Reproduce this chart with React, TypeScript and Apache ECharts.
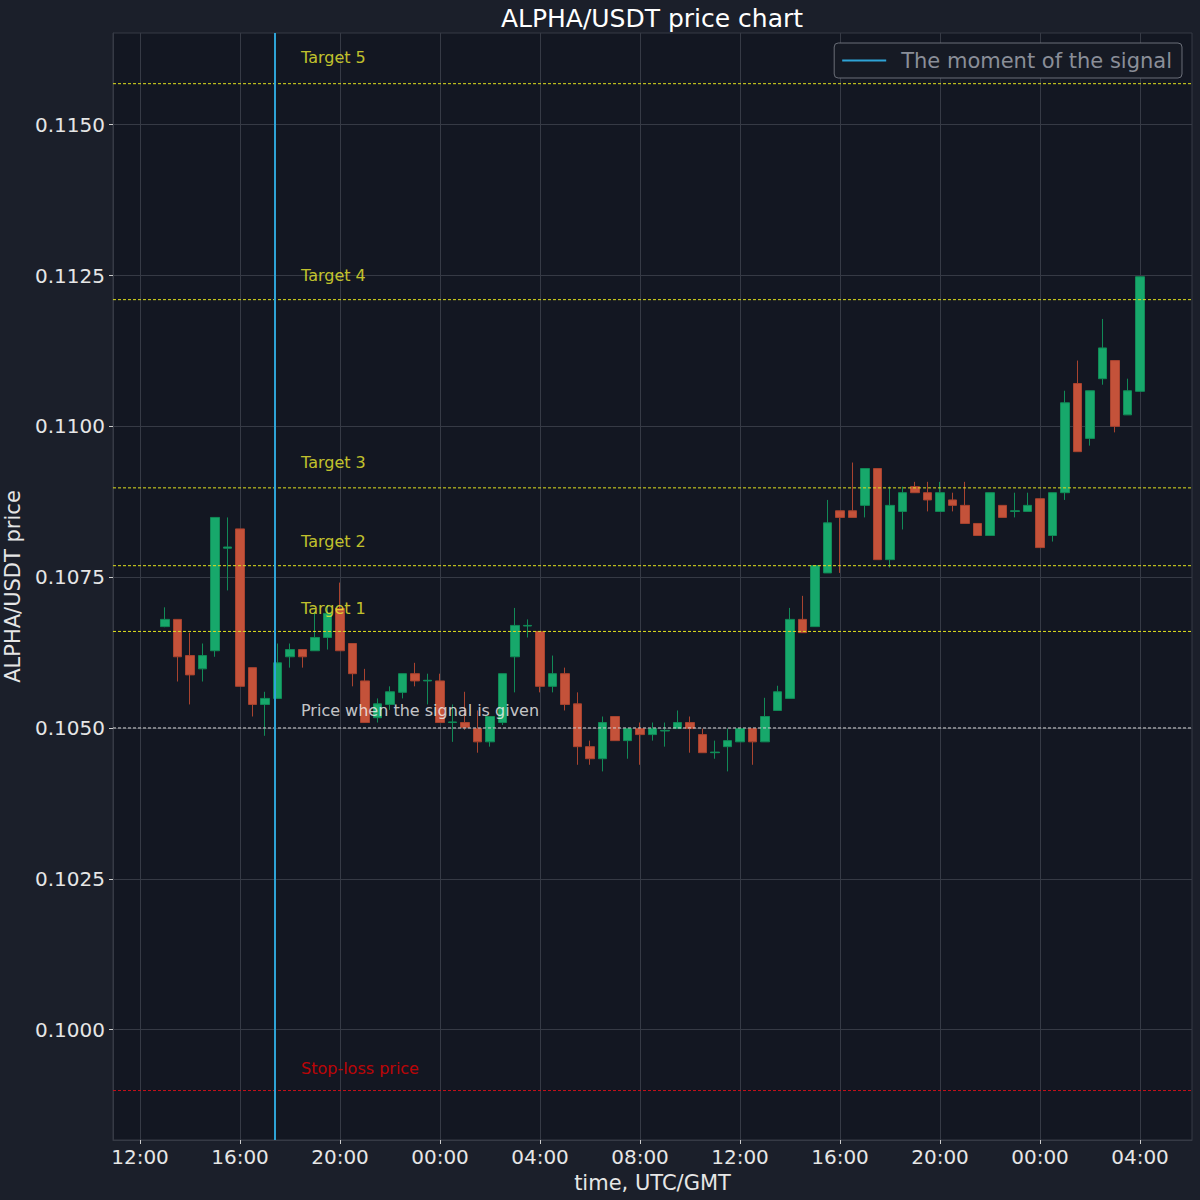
import React, { useEffect, useRef } from "react";
import * as echarts from "echarts";

const TITLE = "ALPHA/USDT price chart";
const LEGEND_NAME = "The moment of the signal";

// time in hours from 00:00 of the first day
const FIRST_CANDLE_HOUR = 13;
const CANDLE_STEP_HOURS = 0.5;
const SIGNAL_HOUR = 17.4;
const X_MIN = 10.92;
const X_MAX = 54.08;
const Y_MIN = 0.09817;
const Y_MAX = 0.11652;

const xTickHours = [12, 16, 20, 24, 28, 32, 36, 40, 44, 48, 52];
const yTicks = [0.1, 0.1025, 0.105, 0.1075, 0.11, 0.1125, 0.115];

const opens = [
  0.10668, 0.1068, 0.1062, 0.10598, 0.10628, 0.10798, 0.1083, 0.106, 0.10539, 0.10549,
  0.10618, 0.1063, 0.10628, 0.1065, 0.10698, 0.1064, 0.10578, 0.10517, 0.10539, 0.10559,
  0.1059, 0.10578, 0.10578, 0.10509, 0.10509, 0.10499, 0.10477, 0.10509, 0.10618, 0.10669,
  0.1066, 0.10569, 0.1059, 0.1054, 0.10469, 0.10449, 0.10519, 0.10479, 0.10499, 0.10489,
  0.10495, 0.10499, 0.10509, 0.10489, 0.10459, 0.10469, 0.10477, 0.10499, 0.10477, 0.10529,
  0.10549, 0.1068, 0.10668, 0.10757, 0.1086, 0.1086, 0.10869, 0.1093, 0.10779, 0.10859,
  0.109, 0.1089, 0.10859, 0.10878, 0.10869, 0.10839, 0.10819, 0.10869, 0.10859, 0.10859,
  0.1088, 0.10819, 0.1089, 0.11071, 0.1098, 0.11079, 0.11109, 0.11019, 0.11058,
];
const closes = [
  0.1068, 0.10618, 0.10588, 0.1062, 0.10849, 0.108, 0.10569, 0.10539, 0.10549, 0.10608,
  0.1063, 0.10618, 0.1065, 0.1069, 0.10628, 0.1059, 0.10509, 0.1054, 0.1056, 0.1059,
  0.10578, 0.10579, 0.10509, 0.1051, 0.10501, 0.10477, 0.10519, 0.1059, 0.1067, 0.1067,
  0.10569, 0.1059, 0.10539, 0.10469, 0.10449, 0.10509, 0.10479, 0.10499, 0.10489, 0.10499,
  0.10496, 0.10509, 0.10499, 0.10459, 0.1046, 0.10479, 0.10499, 0.10477, 0.10519, 0.1056,
  0.1068, 0.10658, 0.10769, 0.1084, 0.10849, 0.10849, 0.1093, 0.10779, 0.10869, 0.1089,
  0.1089, 0.10878, 0.1089, 0.10869, 0.10839, 0.10819, 0.1089, 0.10849, 0.1086, 0.10869,
  0.10799, 0.1089, 0.11039, 0.10958, 0.11059, 0.1113, 0.11, 0.11059, 0.11248,
];
const lows = [
  0.10667, 0.10577, 0.10539, 0.10577, 0.10618, 0.10728, 0.10569, 0.10519, 0.10487, 0.10549,
  0.106, 0.106, 0.10628, 0.1063, 0.10628, 0.10569, 0.10509, 0.10509, 0.1053, 0.10549,
  0.10569, 0.10539, 0.10509, 0.10477, 0.10497, 0.10459, 0.10469, 0.10505, 0.10559, 0.1065,
  0.10559, 0.10559, 0.10529, 0.10439, 0.10439, 0.10428, 0.10479, 0.10449, 0.10439, 0.10479,
  0.10469, 0.10499, 0.10459, 0.10459, 0.10449, 0.10428, 0.10477, 0.10439, 0.10477, 0.10529,
  0.10549, 0.10658, 0.10668, 0.10757, 0.10757, 0.10849, 0.10849, 0.10779, 0.10766, 0.10829,
  0.1089, 0.10859, 0.10859, 0.10859, 0.10839, 0.10819, 0.10819, 0.10849, 0.10849, 0.10859,
  0.10799, 0.10809, 0.10878, 0.10958, 0.10968, 0.11069, 0.1099, 0.11019, 0.11058,
];
const highs = [
  0.107, 0.1068, 0.10658, 0.1064, 0.10849, 0.10849, 0.1083, 0.106, 0.1056, 0.1064,
  0.1064, 0.1063, 0.10691, 0.10704, 0.10741, 0.1064, 0.10598, 0.10549, 0.10569, 0.1059,
  0.10608, 0.1059, 0.1059, 0.10539, 0.1056, 0.10529, 0.10519, 0.1059, 0.10699, 0.1068,
  0.1066, 0.1062, 0.106, 0.10559, 0.10479, 0.10519, 0.10519, 0.105, 0.10509, 0.10509,
  0.10509, 0.10529, 0.10519, 0.10499, 0.10479, 0.10499, 0.10499, 0.10499, 0.1055, 0.1057,
  0.10699, 0.10719, 0.10769, 0.10878, 0.1086, 0.1094, 0.1093, 0.1093, 0.109, 0.109,
  0.10908, 0.10908, 0.10908, 0.1089, 0.10908, 0.10839, 0.1089, 0.10869, 0.1089, 0.1089,
  0.1088, 0.1089, 0.11059, 0.11109, 0.11059, 0.11178, 0.11109, 0.11079, 0.11248,
];

const levelNames = [
  "Target 5",
  "Target 4",
  "Target 3",
  "Target 2",
  "Target 1",
  "Price when the signal is given",
  "Stop-loss price",
];
const levelPrices = [0.11568, 0.1121, 0.10898, 0.10769, 0.1066, 0.105, 0.09899];
const LABEL_HOUR = 18.44;

const TARGET_LINE = "#e0e01e";
const TARGET_TEXT = "#f0f030";
const PRICE_LINE = "#d4d4d4";
const PRICE_TEXT = "#f4f4f4";
const STOP_LINE = "#c8101a";
const STOP_TEXT = "#e80000";
const levelLineColors = [TARGET_LINE, TARGET_LINE, TARGET_LINE, TARGET_LINE, TARGET_LINE, PRICE_LINE, STOP_LINE];
const levelTextColors = [TARGET_TEXT, TARGET_TEXT, TARGET_TEXT, TARGET_TEXT, TARGET_TEXT, PRICE_TEXT, STOP_TEXT];
const levelLabelLift = [26, 24, 25, 24, 23, 17, 22];

const FONT = "DejaVu Sans";
const GRID_COLOR = "#363a45";
const TEXT_COLOR = "#e6e6e6";
const SIGNAL_COLOR = "#2ea3d6";

function hourLabel(v: number) {
  const h = ((Math.round(v) % 24) + 24) % 24;
  return (h < 10 ? "0" : "") + h + ":00";
}

export default function App() {
  const ref = useRef<HTMLDivElement>(null);
  useEffect(() => {
    if (!ref.current) return;
    const chart = echarts.init(ref.current, undefined, { renderer: "svg" });
    const candleData = opens.map((o, i) => [
      FIRST_CANDLE_HOUR + i * CANDLE_STEP_HOURS,
      o,
      closes[i],
      lows[i],
      highs[i],
    ]);
    const labelData = levelNames.map((n, i) => ({
      name: n,
      value: [LABEL_HOUR, levelPrices[i]],
      label: { color: levelTextColors[i], offset: [0, -levelLabelLift[i]] },
    }));
    const levelSeries = levelPrices.map((p, i) => ({
      type: "line",
      name: "level-" + i,
      data: [
        [X_MIN, p],
        [X_MAX, p],
      ],
      symbol: "none",
      silent: true,
      lineStyle: { color: levelLineColors[i], type: [3, 2], width: 1 },
      z: 4,
    }));
    chart.setOption({
      animation: false,
      backgroundColor: "#1b1f2a",
      textStyle: { fontFamily: FONT },
      title: {
        text: TITLE,
        left: 652,
        textAlign: "center",
        top: 6,
        padding: 0,
        textStyle: { color: "#ffffff", fontSize: 25, fontWeight: "normal", fontFamily: FONT },
      },
      legend: {
        data: [LEGEND_NAME],
        right: 18,
        top: 43,
        orient: "vertical",
        backgroundColor: "#161a24",
        borderColor: "#6a6e78",
        borderWidth: 1,
        borderRadius: 4,
        padding: [7, 10, 7, 8],
        icon: "rect",
        itemWidth: 44,
        itemHeight: 2,
        textStyle: { color: "#8a8e98", fontSize: 21, fontFamily: FONT, padding: [0, 0, 0, 10] },
        selectedMode: false,
      },
      grid: {
        left: 113,
        right: 8,
        top: 33,
        bottom: 60,
        show: true,
        backgroundColor: "#131722",
        borderColor: GRID_COLOR,
        borderWidth: 1,
        containLabel: false,
        outerBoundsMode: "none",
      },
      xAxis: {
        type: "value",
        min: X_MIN,
        max: X_MAX,
        name: "time, UTC/GMT",
        nameLocation: "middle",
        nameGap: 32,
        nameTextStyle: { color: TEXT_COLOR, fontSize: 21, fontFamily: FONT },
        axisLine: { show: true, lineStyle: { color: GRID_COLOR } },
        axisTick: { show: true, customValues: xTickHours, length: 4, lineStyle: { color: "#cccccc" } },
        axisLabel: {
          customValues: xTickHours,
          formatter: (v: number) => hourLabel(v),
          color: TEXT_COLOR,
          fontSize: 20,
          margin: 7,
          fontFamily: FONT,
        },
        splitLine: { show: true, lineStyle: { color: GRID_COLOR, width: 1 } },
      },
      yAxis: {
        type: "value",
        min: Y_MIN,
        max: Y_MAX,
        name: "ALPHA/USDT price",
        nameLocation: "middle",
        nameGap: 90,
        nameTextStyle: { color: TEXT_COLOR, fontSize: 21, fontFamily: FONT },
        axisLine: { show: true, lineStyle: { color: GRID_COLOR } },
        axisTick: { show: true, customValues: yTicks, length: 4, lineStyle: { color: "#cccccc" } },
        axisLabel: {
          customValues: yTicks,
          formatter: (v: number) => v.toFixed(4),
          color: TEXT_COLOR,
          fontSize: 20,
          margin: 8,
          fontFamily: FONT,
        },
        splitLine: { show: true, lineStyle: { color: GRID_COLOR, width: 1 } },
      },
      series: [
        {
          type: "candlestick",
          name: "price",
          data: candleData,
          encode: { x: 0, y: [1, 2, 3, 4] },
          barWidth: 9,
          itemStyle: {
            color: "#17a86b",
            color0: "#c4523a",
            borderColor: "#118a57",
            borderColor0: "#a8432f",
            borderWidth: 1,
          },
          silent: true,
        },
        ...levelSeries,
        {
          type: "scatter",
          name: "level labels",
          data: labelData,
          symbolSize: 0,
          silent: true,
          z: 6,
          label: {
            show: true,
            position: "right",
            distance: 0,
            formatter: (p: any) => p.name,
            fontSize: 16,
            fontFamily: FONT,
          },
        },
        {
          type: "line",
          name: LEGEND_NAME,
          data: [
            [SIGNAL_HOUR, Y_MIN],
            [SIGNAL_HOUR, Y_MAX],
          ],
          symbol: "none",
          silent: true,
          lineStyle: { color: SIGNAL_COLOR, width: 2 },
          itemStyle: { color: SIGNAL_COLOR },
          z: 5,
        },
      ],
    });
    return () => chart.dispose();
  }, []);
  return (
    <div
      ref={ref}
      style={{ position: "absolute", left: 0, top: 0, width: 1200, height: 1200 }}
    />
  );
}
